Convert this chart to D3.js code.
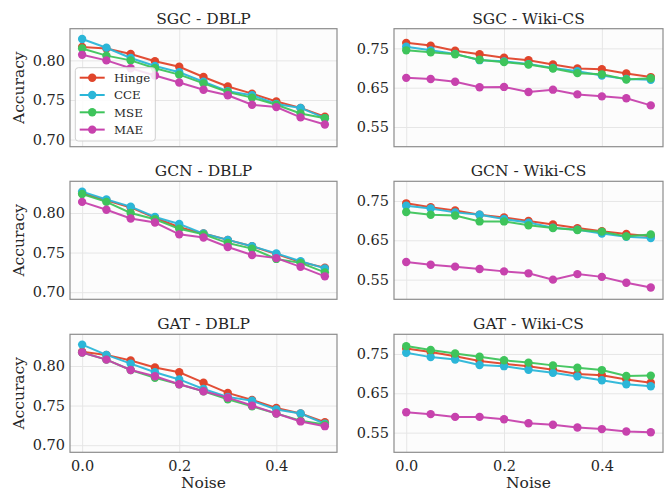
<!DOCTYPE html>
<html>
<head>
<meta charset="utf-8">
<script src="https://cdn.jsdelivr.net/npm/d3@7"></script>
<style>
  html, body { margin: 0; padding: 0; background: #ffffff; }
  svg { display: block; }
  text { font-family: "DejaVu Serif", serif; fill: #262626; }
</style>
</head>
<body>
<div id="chart"></div>
<script>
// ---------------- data ----------------
const noise = [0.0, 0.05, 0.1, 0.15, 0.2, 0.25, 0.3, 0.35, 0.4, 0.45, 0.5];
const seriesNames = ["Hinge", "CCE", "MSE", "MAE"];
const seriesColors = ["#e0452b", "#2bb6d8", "#3ec45b", "#c742ad"];
const panelTitles = ["SGC - DBLP", "SGC - Wiki-CS", "GCN - DBLP", "GCN - Wiki-CS", "GAT - DBLP", "GAT - Wiki-CS"];
const xTicks = [0.0, 0.2, 0.4];
const yTicksDBLP = [0.70, 0.75, 0.80];
const yTicksWiki = [0.55, 0.65, 0.75];

// each: [Hinge, CCE, MSE, MAE]
const sgcDblp = [
  [0.817, 0.815, 0.808, 0.799, 0.792, 0.779, 0.767, 0.758, 0.748, 0.740, 0.729],
  [0.827, 0.816, 0.803, 0.793, 0.785, 0.773, 0.761, 0.756, 0.745, 0.740, 0.727],
  [0.815, 0.806, 0.800, 0.790, 0.782, 0.771, 0.760, 0.753, 0.744, 0.733, 0.727],
  [0.807, 0.800, 0.790, 0.781, 0.772, 0.763, 0.756, 0.744, 0.741, 0.728, 0.719]
];
const sgcWiki = [
  [0.764, 0.757, 0.744, 0.735, 0.726, 0.720, 0.709, 0.699, 0.697, 0.686, 0.677],
  [0.754, 0.745, 0.736, 0.720, 0.717, 0.710, 0.700, 0.692, 0.681, 0.672, 0.670],
  [0.745, 0.740, 0.735, 0.721, 0.715, 0.709, 0.699, 0.687, 0.684, 0.671, 0.674],
  [0.675, 0.672, 0.665, 0.651, 0.652, 0.639, 0.645, 0.633, 0.628, 0.623, 0.605]
];
const gcnDblp = [
  [0.825, 0.816, 0.807, 0.794, 0.782, 0.774, 0.766, 0.758, 0.748, 0.738, 0.731],
  [0.827, 0.817, 0.808, 0.795, 0.786, 0.774, 0.766, 0.758, 0.749, 0.739, 0.730],
  [0.824, 0.814, 0.800, 0.792, 0.780, 0.773, 0.762, 0.755, 0.742, 0.737, 0.725],
  [0.814, 0.804, 0.793, 0.788, 0.773, 0.769, 0.757, 0.747, 0.743, 0.732, 0.720]
];
const gcnWiki = [
  [0.744, 0.734, 0.726, 0.715, 0.708, 0.699, 0.690, 0.681, 0.673, 0.666, 0.660],
  [0.738, 0.731, 0.721, 0.715, 0.704, 0.695, 0.682, 0.677, 0.667, 0.659, 0.656],
  [0.722, 0.715, 0.713, 0.698, 0.698, 0.688, 0.681, 0.676, 0.672, 0.660, 0.665],
  [0.595, 0.588, 0.583, 0.577, 0.571, 0.566, 0.550, 0.564, 0.557, 0.542, 0.530]
];
const gatDblp = [
  [0.818, 0.814, 0.807, 0.798, 0.792, 0.779, 0.766, 0.757, 0.747, 0.740, 0.729],
  [0.827, 0.814, 0.803, 0.792, 0.783, 0.771, 0.761, 0.756, 0.745, 0.740, 0.727],
  [0.817, 0.808, 0.795, 0.785, 0.777, 0.768, 0.758, 0.749, 0.740, 0.731, 0.726],
  [0.817, 0.808, 0.795, 0.787, 0.777, 0.768, 0.760, 0.750, 0.740, 0.730, 0.724]
];
const gatWiki = [
  [0.764, 0.755, 0.744, 0.732, 0.725, 0.719, 0.710, 0.699, 0.696, 0.685, 0.677],
  [0.753, 0.742, 0.736, 0.722, 0.719, 0.710, 0.702, 0.693, 0.683, 0.673, 0.668],
  [0.770, 0.760, 0.751, 0.743, 0.734, 0.728, 0.721, 0.715, 0.709, 0.694, 0.695],
  [0.602, 0.597, 0.590, 0.590, 0.584, 0.574, 0.570, 0.563, 0.559, 0.553, 0.551]
];
const panelData = [sgcDblp, sgcWiki, gcnDblp, gcnWiki, gatDblp, gatWiki];

// ---------------- layout ----------------
const W = 664, H = 492;
const colX = [[70, 337], [394, 663]];
const rowY = [[28.7, 146.7], [181.3, 299.3], [334.3, 452.3]];
const yDomains = [[0.691, 0.840], [0.50, 0.80]];
const xDomain = [-0.025, 0.525];

const svg = d3.select("#chart").append("svg")
  .attr("width", W).attr("height", H);

panelData.forEach((data, i) => {
  const r = Math.floor(i / 2), c = i % 2;
  const [x0, x1] = colX[c];
  const [y0, y1] = rowY[r];
  const x = d3.scaleLinear().domain(xDomain).range([x0, x1]);
  const y = d3.scaleLinear().domain(yDomains[c]).range([y1, y0]);
  const yTicks = c === 0 ? yTicksDBLP : yTicksWiki;
  const g = svg.append("g");

  // background
  g.append("rect").attr("x", x0).attr("y", y0)
    .attr("width", x1 - x0).attr("height", y1 - y0)
    .attr("fill", "#fcfcfc");

  // grid
  const gx = g.append("g")
    .attr("transform", `translate(0,${y1})`)
    .call(d3.axisBottom(x).tickValues(xTicks).tickSize(-(y1 - y0)).tickFormat(d3.format(".1f")));
  gx.select(".domain").remove();
  gx.selectAll("line").attr("stroke", "#e6e6e6").attr("stroke-width", 1);
  if (r === 2) {
    gx.selectAll("text").attr("font-size", 14.5).attr("dy", "1.05em")
      .attr("font-family", "DejaVu Serif").attr("fill", "#262626");
  } else {
    gx.selectAll("text").remove();
  }

  const gy = g.append("g")
    .attr("transform", `translate(${x0},0)`)
    .call(d3.axisLeft(y).tickValues(yTicks).tickSize(-(x1 - x0)).tickPadding(5).tickFormat(d3.format(".2f")));
  gy.select(".domain").remove();
  gy.selectAll("line").attr("stroke", "#e6e6e6").attr("stroke-width", 1);
  gy.selectAll("text").attr("font-size", 14.5)
    .attr("font-family", "DejaVu Serif").attr("fill", "#262626");

  // series
  const line = d3.line().x((d, k) => x(noise[k])).y(d => y(d));
  data.forEach((vals, s) => {
    g.append("path").datum(vals)
      .attr("d", line).attr("fill", "none")
      .attr("stroke", seriesColors[s]).attr("stroke-width", 2)
      .attr("stroke-opacity", 0.95);
    g.append("g").selectAll("circle").data(vals).join("circle")
      .attr("cx", (d, k) => x(noise[k])).attr("cy", d => y(d))
      .attr("r", 4.2).attr("fill", seriesColors[s]);
  });

  // frame
  g.append("rect").attr("x", x0).attr("y", y0)
    .attr("width", x1 - x0).attr("height", y1 - y0)
    .attr("fill", "none").attr("stroke", "#8c8c8c").attr("stroke-width", 1.2);

  // title
  g.append("text").attr("x", (x0 + x1) / 2).attr("y", y0 - 5)
    .attr("text-anchor", "middle").attr("font-size", 15.5).text(panelTitles[i]);

  // y label
  if (c === 0) {
    g.append("text")
      .attr("transform", `translate(24,${(y0 + y1) / 2}) rotate(-90)`)
      .attr("text-anchor", "middle").attr("font-size", 15.5).text("Accuracy");
  }
  // x label
  if (r === 2) {
    g.append("text").attr("x", (x0 + x1) / 2).attr("y", 488)
      .attr("text-anchor", "middle").attr("font-size", 15.5).text("Noise");
  }

  // legend
  if (i === 0) {
    const lg = g.append("g");
    lg.append("rect").attr("x", 75.3).attr("y", 67.7)
      .attr("width", 80).attr("height", 73.3).attr("rx", 3)
      .attr("fill", "#ffffff").attr("fill-opacity", 0.85)
      .attr("stroke", "#d0d0d0").attr("stroke-width", 1);
    seriesNames.forEach((name, s) => {
      const yy = 77.7 + s * 17.3;
      lg.append("line").attr("x1", 79.7).attr("x2", 104.7)
        .attr("y1", yy).attr("y2", yy)
        .attr("stroke", seriesColors[s]).attr("stroke-width", 2);
      lg.append("circle").attr("cx", 92.2).attr("cy", yy).attr("r", 4.2)
        .attr("fill", seriesColors[s]);
      lg.append("text").attr("x", 114).attr("y", yy + 4.2)
        .attr("font-size", 11.8).text(name);
    });
  }
});
</script>
</body>
</html>
